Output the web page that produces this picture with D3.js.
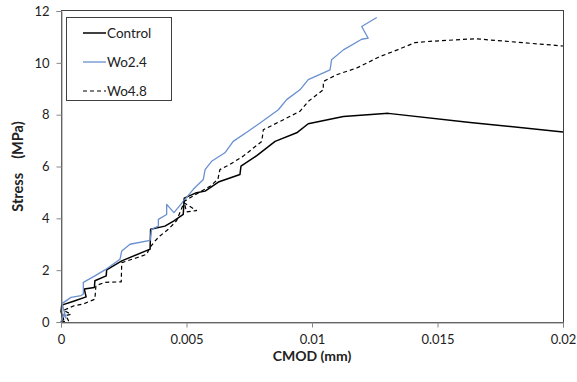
<!DOCTYPE html>
<html>
<head>
<meta charset="utf-8">
<script src="https://cdn.jsdelivr.net/npm/d3@7"></script>
<style>
  body { margin: 0; background: #fff; }
  svg { font-family: Lato, "Open Sans", sans-serif; }
</style>
</head>
<body>
<svg id="chart" width="577" height="382"></svg>
<script>
// [CMOD (mm), stress (MPa)]
var control = [[0,0],[0.0001,0.1],[0,0.4],[0.00003,0.65],[0.0005,0.8],[0.001,0.97],[0.00093,1.27],[0.00133,1.33],
  [0.00135,1.59],[0.0018,1.78],[0.00182,2.01],[0.00242,2.36],[0.00355,2.81],[0.00357,3.58],[0.00414,3.7],
  [0.0045,3.9],[0.00487,4.15],[0.00491,4.78],[0.0054,4.99],[0.00574,5.05],[0.00627,5.4],[0.00713,5.69],
  [0.00717,6.01],[0.0078,6.42],[0.00853,6.97],[0.00939,7.3],[0.00985,7.65],[0.01125,7.93],[0.01304,8.05],
  [0.0163,7.7],[0.02,7.33]];

var wo24 = [[0,0],[0.0001,0.3],[0.0002,0.15],[0.0001,0.5],[0.00005,0.72],[0.0004,0.95],[0.0008,1.02],
  [0.00089,1.08],[0.00089,1.53],[0.00135,1.78],[0.00175,2.01],[0.00235,2.42],[0.00242,2.74],[0.00275,3.0],
  [0.00355,3.15],[0.00361,3.58],[0.00388,3.7],[0.00388,3.96],[0.00421,4.15],[0.00421,4.54],[0.0045,4.22],
  [0.00527,5.12],[0.00567,5.5],[0.00574,5.88],[0.006,6.2],[0.00653,6.53],[0.00686,6.97],[0.00746,7.36],
  [0.00793,7.68],[0.00866,8.19],[0.00899,8.58],[0.00952,8.96],[0.00985,9.35],[0.01072,9.73],[0.01078,10.12],
  [0.01125,10.5],[0.01198,10.91],[0.01224,10.95],[0.01198,11.4],[0.01258,11.75]];

var wo48 = [[0,0],[0.0003,0.05],[0.0002,0.25],[0.0004,0.3],[0.0001,0.45],[0.0005,0.62],[0.0009,0.7],
  [0.00135,0.88],[0.00139,1.4],[0.00175,1.53],[0.0024,1.55],[0.00242,2.29],[0.00302,2.48],[0.00341,2.61],
  [0.00355,2.88],[0.00375,3.13],[0.00394,3.32],[0.00428,3.58],[0.0046,3.9],[0.0049,4.6],[0.0054,4.3],
  [0.005,4.25],[0.0049,4.65],[0.0055,5.0],[0.00594,5.24],[0.00625,5.5],[0.00633,5.88],[0.00673,6.08],
  [0.00726,6.4],[0.008,6.97],[0.00806,7.42],[0.00873,7.74],[0.00952,8.13],[0.00985,8.51],[0.01045,8.96],
  [0.01045,9.28],[0.01098,9.54],[0.01178,9.8],[0.0127,10.24],[0.0134,10.5],[0.0141,10.78],[0.0147,10.83],
  [0.0165,10.93],[0.02,10.65]];

var series = [
  { name: 'Control', data: control, color: '#000', width: 1.5, dash: null },
  { name: 'Wo2.4', data: wo24, color: '#6a90d0', width: 1.3, dash: null },
  { name: 'Wo4.8', data: wo48, color: '#000', width: 1.2, dash: '4,3' }
];
var xTicks = [0, 0.005, 0.01, 0.015, 0.02];
var yTicks = [0, 2, 4, 6, 8, 10, 12];

var svg = d3.select('#chart');
var pLeft = 61, pRight = 563, pTop = 11, pBottom = 322;

var x = d3.scaleLinear().domain([0, 0.02]).range([pLeft, pRight]);
var y = d3.scaleLinear().domain([0, 12]).range([pBottom, pTop]);

// plot frame
svg.append('rect')
  .attr('x', pLeft + 0.5).attr('y', pTop - 0.5)
  .attr('width', pRight - pLeft).attr('height', pBottom - pTop + 1)
  .attr('fill', 'none').attr('stroke', '#404040').attr('stroke-width', 1);

var plot = svg.append('g');
var line = d3.line().x(function(d) { return x(d[0]); }).y(function(d) { return y(d[1]); });

series.forEach(function(s) {
  plot.append('path')
    .datum(s.data)
    .attr('d', line)
    .attr('fill', 'none')
    .attr('stroke', s.color)
    .attr('stroke-width', s.width)
    .attr('stroke-dasharray', s.dash)
    .attr('stroke-linejoin', 'round');
});

var xAxis = svg.append('g')
  .attr('transform', 'translate(0,' + (pBottom + 0.5) + ')')
  .call(d3.axisBottom(x).tickValues(xTicks).tickSize(5).tickPadding(7)
    .tickFormat(function(d) { return d3.format('')(+d.toFixed(3)); }));

var yAxis = svg.append('g')
  .attr('transform', 'translate(' + (pLeft + 0.5) + ',0)')
  .call(d3.axisLeft(y).tickValues(yTicks).tickSize(5).tickPadding(7));

[xAxis, yAxis].forEach(function(a) {
  a.select('.domain').attr('stroke', '#868686');
  a.selectAll('.tick line').attr('stroke', '#868686');
  a.selectAll('text').attr('fill', '#222').style('font-size', '13px')
    .style('font-family', 'Lato, sans-serif');
});

svg.append('text')
  .attr('x', (pLeft + pRight) / 2).attr('y', 361)
  .attr('text-anchor', 'middle')
  .style('font-size', '14px').style('font-weight', 'bold')
  .attr('fill', '#222')
  .text('CMOD (mm)');

svg.append('text')
  .attr('transform', 'translate(23,' + ((pTop + pBottom) / 2) + ') rotate(-90)')
  .attr('text-anchor', 'middle')
  .style('font-size', '14.5px').style('font-weight', 'bold')
  .style('white-space', 'pre')
  .attr('fill', '#222')
  .text('Stress    (MPa)');

// legend
var legend = svg.append('g').attr('transform', 'translate(66,17)');
legend.append('rect')
  .attr('x', 0.5).attr('y', 0.5).attr('width', 105).attr('height', 83)
  .attr('fill', '#fff').attr('stroke', '#404040');

var item = legend.selectAll('.item').data(series).enter().append('g')
  .attr('class', 'item')
  .attr('transform', function(d, i) { return 'translate(0,' + (16 + i * 29) + ')'; });

item.append('line')
  .attr('x1', 17).attr('x2', 40).attr('y1', 0).attr('y2', 0)
  .attr('stroke', function(d) { return d.color; })
  .attr('stroke-width', function(d) { return d.width; })
  .attr('stroke-dasharray', function(d) { return d.dash; });

item.append('text')
  .attr('x', 41).attr('y', 0).attr('dy', '0.35em')
  .style('font-size', '13.5px').attr('fill', '#222')
  .text(function(d) { return d.name; });
</script>
</body>
</html>
